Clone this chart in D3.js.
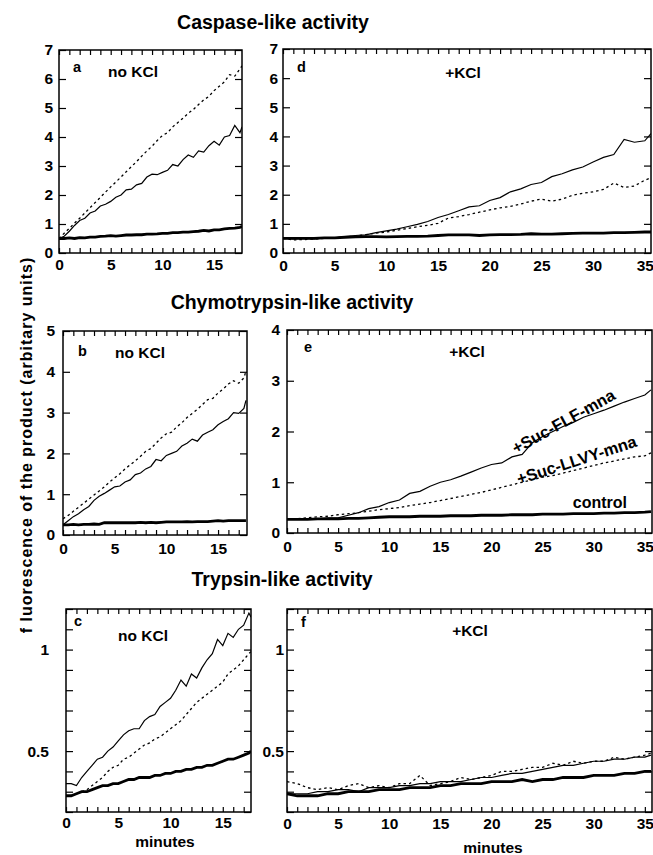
<!DOCTYPE html>
<html>
<head>
<meta charset="utf-8">
<script src="https://cdn.jsdelivr.net/npm/d3@7"></script>
<style>
  body { margin: 0; background: #fff; }
  svg text { font-family: "Liberation Sans", Arial, Helvetica, sans-serif; font-weight: bold; fill: #000; }
  .tick line { stroke: #000; stroke-width: 1.2; }
</style>
</head>
<body>
<svg id="fig" width="653" height="855"></svg>
<script>
// time points (minutes)
const tShort = [0,0.5,1,1.5,2,2.5,3,3.5,4,4.5,5,5.5,6,6.5,7,7.5,8,8.5,9,9.5,10,10.5,11,11.5,12,12.5,13,13.5,14,14.5,15,15.5,16,16.5,17,17.5,17.7];
const tLong = [0,1,2,3,4,5,6,7,8,9,10,11,12,13,14,15,16,17,18,19,20,21,22,23,24,25,26,27,28,29,30,31,32,33,34,35,35.6];

// caspase-like, no KCl (a)
const aSolid = [0.50,0.58,0.75,0.95,1.12,1.20,1.38,1.45,1.62,1.68,1.78,1.92,2.00,2.18,2.20,2.35,2.40,2.62,2.72,2.70,2.78,2.85,3.05,3.00,3.22,3.38,3.30,3.52,3.48,3.70,3.85,3.72,4.00,4.05,4.40,4.15,4.35];
const aDotted = [0.50,0.68,0.85,1.03,1.20,1.38,1.56,1.74,1.92,2.10,2.28,2.45,2.62,2.80,2.98,3.15,3.34,3.52,3.68,3.88,4.05,4.15,4.35,4.50,4.65,4.82,4.95,5.12,5.28,5.40,5.60,5.75,5.90,6.15,6.10,6.35,6.45];
const aControl = [0.50,0.50,0.52,0.50,0.53,0.52,0.55,0.55,0.57,0.58,0.60,0.58,0.60,0.62,0.62,0.63,0.63,0.65,0.65,0.66,0.68,0.68,0.70,0.70,0.72,0.72,0.74,0.75,0.78,0.76,0.80,0.80,0.83,0.85,0.86,0.88,0.92];

// caspase-like, +KCl (d)
const dSolid = [0.50,0.48,0.50,0.48,0.52,0.52,0.56,0.60,0.62,0.70,0.76,0.82,0.90,0.98,1.08,1.22,1.32,1.45,1.58,1.62,1.80,1.90,2.10,2.20,2.35,2.42,2.62,2.72,2.85,2.95,3.12,3.28,3.38,3.90,3.80,3.85,4.10];
const dDotted = [0.50,0.45,0.46,0.48,0.50,0.52,0.55,0.58,0.63,0.68,0.72,0.78,0.84,0.90,0.95,1.02,1.20,1.25,1.32,1.40,1.48,1.55,1.60,1.68,1.78,1.85,1.78,1.85,1.98,2.05,2.10,2.18,2.40,2.25,2.30,2.50,2.58];
const dControl = [0.50,0.50,0.50,0.50,0.52,0.52,0.54,0.55,0.56,0.56,0.55,0.56,0.57,0.57,0.58,0.60,0.62,0.62,0.62,0.60,0.62,0.63,0.63,0.64,0.66,0.65,0.65,0.66,0.67,0.68,0.68,0.68,0.70,0.70,0.71,0.72,0.72];

// chymotrypsin-like, no KCl (b)
const bSolid = [0.25,0.35,0.45,0.52,0.62,0.70,0.85,0.95,1.02,1.10,1.18,1.20,1.30,1.35,1.48,1.52,1.62,1.68,1.85,1.82,1.95,2.00,2.05,2.18,2.25,2.35,2.30,2.45,2.52,2.58,2.70,2.78,2.85,3.00,2.98,3.10,3.30];
const bDotted = [0.40,0.48,0.58,0.68,0.78,0.88,0.98,1.08,1.18,1.30,1.40,1.50,1.62,1.72,1.82,1.93,2.05,2.12,2.25,2.38,2.48,2.52,2.65,2.75,2.88,2.98,3.08,3.20,3.32,3.35,3.48,3.58,3.70,3.78,3.72,3.85,4.02];
const bControl = [0.25,0.25,0.26,0.25,0.26,0.26,0.27,0.26,0.30,0.30,0.30,0.30,0.30,0.30,0.30,0.31,0.30,0.31,0.30,0.31,0.32,0.32,0.32,0.32,0.33,0.32,0.33,0.33,0.33,0.34,0.35,0.34,0.35,0.35,0.35,0.35,0.35];

// chymotrypsin-like, +KCl (e)
const eSolid = [0.28,0.28,0.27,0.28,0.30,0.30,0.35,0.40,0.48,0.52,0.60,0.65,0.78,0.82,0.92,1.00,1.05,1.12,1.20,1.28,1.35,1.38,1.50,1.55,1.78,1.90,2.00,2.10,2.18,2.28,2.35,2.42,2.50,2.58,2.65,2.72,2.82];
const eDotted = [0.28,0.28,0.30,0.32,0.33,0.36,0.38,0.40,0.43,0.46,0.48,0.50,0.54,0.57,0.60,0.64,0.68,0.72,0.76,0.80,0.85,0.90,0.95,1.00,1.05,1.10,1.13,1.18,1.23,1.28,1.33,1.38,1.42,1.46,1.50,1.52,1.58];
const eControl = [0.27,0.27,0.27,0.28,0.28,0.28,0.29,0.29,0.30,0.31,0.32,0.32,0.32,0.33,0.33,0.33,0.34,0.34,0.34,0.35,0.35,0.35,0.36,0.36,0.36,0.37,0.37,0.37,0.38,0.38,0.38,0.39,0.39,0.40,0.40,0.41,0.42];

// trypsin-like, no KCl (c)
const cSolid = [0.34,0.34,0.33,0.37,0.40,0.43,0.46,0.47,0.50,0.52,0.55,0.58,0.60,0.61,0.61,0.65,0.67,0.68,0.72,0.74,0.76,0.80,0.85,0.82,0.88,0.86,0.91,0.95,0.98,1.05,1.02,1.08,1.06,1.10,1.12,1.18,1.16];
const cDotted = [0.28,0.28,0.29,0.30,0.31,0.33,0.35,0.37,0.40,0.42,0.43,0.46,0.47,0.49,0.51,0.53,0.54,0.56,0.57,0.59,0.61,0.63,0.65,0.68,0.71,0.74,0.76,0.78,0.80,0.82,0.84,0.88,0.90,0.92,0.95,0.98,0.99];
const cControl = [0.28,0.28,0.29,0.30,0.30,0.31,0.32,0.33,0.33,0.34,0.34,0.35,0.36,0.36,0.37,0.37,0.37,0.38,0.38,0.39,0.39,0.40,0.40,0.41,0.41,0.42,0.42,0.43,0.43,0.44,0.45,0.46,0.46,0.47,0.48,0.49,0.50];

// trypsin-like, +KCl (f)
const fSolid = [0.29,0.29,0.29,0.30,0.30,0.31,0.31,0.30,0.32,0.32,0.32,0.33,0.33,0.34,0.34,0.35,0.35,0.35,0.36,0.37,0.37,0.38,0.39,0.39,0.40,0.41,0.42,0.43,0.43,0.44,0.45,0.45,0.46,0.46,0.47,0.47,0.48];
const fDotted = [0.35,0.34,0.32,0.31,0.32,0.31,0.33,0.34,0.32,0.33,0.32,0.34,0.34,0.38,0.33,0.34,0.35,0.37,0.36,0.37,0.38,0.40,0.40,0.41,0.42,0.42,0.44,0.43,0.45,0.44,0.45,0.45,0.47,0.46,0.47,0.48,0.49];
const fControl = [0.29,0.28,0.28,0.28,0.29,0.29,0.30,0.30,0.30,0.31,0.31,0.31,0.32,0.32,0.32,0.33,0.33,0.34,0.34,0.34,0.35,0.35,0.35,0.36,0.35,0.36,0.36,0.37,0.37,0.37,0.38,0.38,0.38,0.39,0.39,0.40,0.40];

// ticks
const xLabelsShort = [0,5,10,15];
const xLabelsLong = [0,5,10,15,20,25,30,35];
const yTicksCasp = [0,1,2,3,4,5,6,7];
const yTicksChymNo = [0,1,2,3,4,5];
const yTicksChymK = [0,1,2,3,4];
const yTicksTryp = [0.2,0.3,0.4,0.5,0.6,0.7,0.8,0.9,1.0,1.1,1.2];
const yLabelsTryp = [0.5,1];

const titles = ["Caspase-like activity", "Chymotrypsin-like activity", "Trypsin-like activity"];

const panels = [
  {id:'a', note:'no KCl', box:[59,242,50,253], xDom:[0,17.7], yDom:[0,7], t:tShort, s:aSolid, d:aDotted, c:aControl, yT:yTicksCasp, yL:yTicksCasp, xL:xLabelsShort, gap:6, xPad:6, letter:[73,72], noteAt:[133,77]},
  {id:'d', note:'+KCl', box:[283,651,49,253], xDom:[0,35.6], yDom:[0,7], t:tLong, s:dSolid, d:dDotted, c:dControl, yT:yTicksCasp, yL:yTicksCasp, xL:xLabelsLong, gap:5, xPad:7, letter:[297,72], noteAt:[463,78]},
  {id:'b', note:'no KCl', box:[63,247,331,535], xDom:[0,17.8], yDom:[0,5], t:tShort, s:bSolid, d:bDotted, c:bControl, yT:yTicksChymNo, yL:yTicksChymNo, xL:xLabelsShort, gap:8, xPad:8, letter:[78,356], noteAt:[140,358]},
  {id:'e', note:'+KCl', box:[287,652,330,533], xDom:[0,35.7], yDom:[0,4], t:tLong, s:eSolid, d:eDotted, c:eControl, yT:yTicksChymK, yL:yTicksChymK, xL:xLabelsLong, gap:7, xPad:8, letter:[304,352], noteAt:[467,357]},
  {id:'c', note:'no KCl', box:[66,251,609,812], xDom:[0,17.7], yDom:[0.2,1.2], t:tShort, s:cSolid, d:cDotted, c:cControl, yT:yTicksTryp, yL:yLabelsTryp, xL:xLabelsShort, gap:17, xPad:5, letter:[74,626], noteAt:[143,641]},
  {id:'f', note:'+KCl', box:[287,652,609,812], xDom:[0,35.7], yDom:[0.2,1.2], t:tLong, s:fSolid, d:fDotted, c:fControl, yT:yTicksTryp, yL:yLabelsTryp, xL:xLabelsLong, gap:3, xPad:6, letter:[301,627], noteAt:[470,636]}
];

const svg = d3.select('#fig');
const scales = {};

panels.forEach(p => {
  const [l, r, top, bot] = p.box;
  const x = d3.scaleLinear().domain(p.xDom).range([l, r]);
  const y = d3.scaleLinear().domain(p.yDom).range([bot, top]);
  scales[p.id] = {x, y};
  const g = svg.append('g').attr('class', 'panel-' + p.id);

  const xTicks = d3.range(Math.ceil(p.xDom[0]), Math.floor(p.xDom[1]) + 1);
  const fmtX = d => p.xL.includes(d) ? d : '';
  const fmtY = d => p.yL.some(v => Math.abs(v - d) < 1e-6) ? d3.format('~g')(d) : '';

  // axes, ticks pointing inside
  g.append('g').attr('transform', `translate(0,${bot})`)
    .call(d3.axisBottom(x).tickValues(xTicks).tickSize(-5).tickPadding(p.xPad).tickFormat(fmtX));
  g.append('g').attr('transform', `translate(0,${top})`)
    .call(d3.axisTop(x).tickValues(xTicks).tickSize(-5).tickFormat(''));
  g.append('g').attr('transform', `translate(${l},0)`)
    .call(d3.axisLeft(y).tickValues(p.yT).tickSize(-7).tickPadding(p.gap).tickFormat(fmtY));
  g.append('g').attr('transform', `translate(${r},0)`)
    .call(d3.axisRight(y).tickValues(p.yT).tickSize(-7).tickFormat(''));
  g.selectAll('.domain').remove();
  g.selectAll('.tick text').style('font-size', '15.5px').style('font-family', null);

  g.append('rect').attr('x', l).attr('y', top).attr('width', r - l).attr('height', bot - top)
    .attr('fill', 'none').attr('stroke', '#000').attr('stroke-width', 1.5);

  g.append('clipPath').attr('id', 'clip-' + p.id)
    .append('rect').attr('x', l).attr('y', top).attr('width', r - l).attr('height', bot - top);

  const line = d3.line().x((d, i) => x(p.t[i])).y(d => y(d));
  const lines = g.append('g').attr('clip-path', `url(#clip-${p.id})`);
  lines.append('path').attr('d', line(p.c)).attr('fill', 'none').attr('stroke', '#000').attr('stroke-width', 2.8);
  lines.append('path').attr('d', line(p.d)).attr('fill', 'none').attr('stroke', '#000').attr('stroke-width', 1.3).attr('stroke-dasharray', '2.5,3');
  lines.append('path').attr('d', line(p.s)).attr('fill', 'none').attr('stroke', '#000').attr('stroke-width', 1.2);

  g.append('text').attr('x', p.letter[0]).attr('y', p.letter[1]).style('font-size', '14.5px').text(p.id);
  g.append('text').attr('x', p.noteAt[0]).attr('y', p.noteAt[1]).attr('text-anchor', 'middle').style('font-size', '15.5px').text(p.note);
});

// titles
svg.append('text').attr('x', 273).attr('y', 29).attr('text-anchor', 'middle').style('font-size', '19.5px').text(titles[0]);
svg.append('text').attr('x', 292).attr('y', 309).attr('text-anchor', 'middle').style('font-size', '19.5px').text(titles[1]);
svg.append('text').attr('x', 282).attr('y', 586).attr('text-anchor', 'middle').style('font-size', '19.5px').text(titles[2]);

// y axis label
svg.append('text').attr('transform', 'translate(32,445) rotate(-90)').attr('text-anchor', 'middle')
  .style('font-size', '16px').style('letter-spacing', '1px').text('f luorescence of the product (arbitary units)');

// x axis labels
svg.append('text').attr('x', 165).attr('y', 847).attr('text-anchor', 'middle').style('font-size', '15.5px').text('minutes');
svg.append('text').attr('x', 493).attr('y', 853).attr('text-anchor', 'middle').style('font-size', '15.5px').text('minutes');

// substrate labels in panel e
const ex = scales.e.x, ey = scales.e.y;
svg.append('text').attr('transform', `translate(${ex(22.4)},${ey(1.55)}) rotate(-29)`).style('font-size', '16.5px').text('+Suc-FLF-mna');
svg.append('text').attr('transform', `translate(${ex(22.7)},${ey(0.95)}) rotate(-18)`).style('font-size', '16.5px').text('+Suc-LLVY-mna');
svg.append('text').attr('x', ex(30.6)).attr('y', ey(0.5)).attr('text-anchor', 'middle').style('font-size', '16px').text('control');
</script>
</body>
</html>
